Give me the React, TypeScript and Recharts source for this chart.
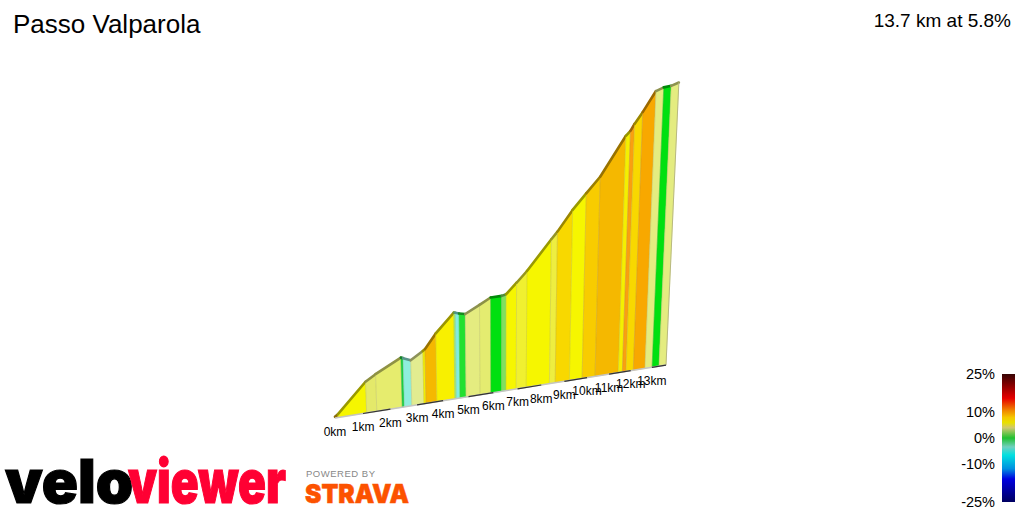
import React from "react";
import { ScatterChart, Scatter, XAxis, YAxis } from "recharts";

const stripKm = [0,0.11,1.13,1.5,2.44,2.52,2.8,3.26,3.34,3.76,4.46,4.52,4.66,4.9,5.46,5.9,6.34,6.52,6.94,7.36,8.35,8.6,9.22,9.78,10.36,11.42,11.61,11.78,12.12,12.67,13.01,13.34,13.68];
const stripGain = [3,8,76,91,123,121,113,132,136,172,219,218,215,212,231,247,248,251,278,306,384,403,458,500,543,652,665,684,716,774,784,788,797];
const stripColors = ["#e0b010","#f6f600","#e4e96a","#e6ec6e","#18d040","#8eeedd","#e2ec90","#f4f000","#f5b800","#f8f000","#a0ee70","#80eee0","#22e030","#e4ec80","#e4ec70","#00e010","#80e060","#f6f600","#f0f030","#f6f600","#eeee40","#f8d800","#f6f600","#f8cc00","#f5b800","#f4f000","#fa9f10","#f8d800","#f8a800","#e4ec80","#00e010","#e4ec80"];
const kmTicks = [0,1,2,3,4,5,6,7,8,9,10,11,12,13];
const scaleTicks = [25,10,0,-10,-25];
const scaleStops: [number,string][] = [[25,"#360404"],[21,"#800000"],[17,"#cc0000"],[15.5,"#e60000"],[11,"#f08000"],[8,"#f5c800"],[6,"#e8e000"],[4,"#d0c870"],[0,"#20c030"],[-3.5,"#70d0c0"],[-6.7,"#00e0e0"],[-12,"#0090e0"],[-16,"#0000e0"],[-25,"#000060"]];

// perspective camera of the 3D profile
const W = 1024, H = 512;
const baseX = (km: number) => 335 + (28.4 * km) / (1 + 0.0127 * km);
const project = (km: number, gain: number) => {
  const bx = baseX(km);
  const h = (gain * 0.416) / (1 + 0.0127 * km);
  return { x: bx + (h * (bx - 500)) / 3650, y: 418 - 0.16 * (bx - 335) - h };
};
const scaleY = (pct: number) => 438 - 2.56 * pct;

const darken = (c: string, f: number) => {
  const n = parseInt(c.slice(1), 16);
  const ch = (s: number) => Math.round(((n >> s) & 255) * f);
  return `rgb(${ch(16)},${ch(8)},${ch(0)})`;
};
const toStr = (pts: any[]) => pts.map((p) => `${p.x},${p.y}`).join(" ");
const noDot = () => <g />;
const SANS = "'Liberation Sans', Arial, sans-serif";

const stripRenderer = (color: string) => (props: any) => {
  const p = props.points;
  return (
    <g key={color}>
      <polygon points={toStr(p)} fill={color} stroke={color} strokeWidth={0.4} />
      <line x1={p[3].x} y1={p[3].y} x2={p[0].x} y2={p[0].y} stroke="#8a8a60" strokeOpacity={0.22} strokeWidth={1} />
      <line x1={p[0].x} y1={p[0].y} x2={p[1].x} y2={p[1].y} stroke={darken(color, 0.62)} strokeWidth={2.6} strokeLinecap="round" />
    </g>
  );
};

const kmLabel = (props: any) => (
  <text x={props.cx} y={props.cy} dy={17.5} textAnchor="middle" fontFamily={SANS} fontSize={12} fill="#000">
    {props.payload.km}km
  </text>
);
const scaleLabel = (props: any) => (
  <text x={props.cx} y={props.cy} dy={5} textAnchor="end" fontFamily={SANS} fontSize={14.5} fill="#000">
    {props.payload.pct}%
  </text>
);

export default function App() {
  return (
    <div style={{ position: "absolute", left: 0, top: 0, width: W, height: H }}>
      <ScatterChart width={W} height={H} margin={{ top: 0, right: 0, bottom: 0, left: 0 }} style={{ background: "#fff" }}>
        <defs>
          <linearGradient id="slopeScale" x1="0" y1="0" x2="0" y2="1">
            {scaleStops.map(([pct, c]) => (
              <stop key={pct} offset={`${((25 - pct) / 50) * 100}%`} stopColor={c} />
            ))}
          </linearGradient>
        </defs>
        <XAxis type="number" dataKey="x" domain={[0, W]} hide />
        <YAxis type="number" dataKey="y" domain={[0, H]} reversed hide />

        {stripColors.map((color, i) => (
          <Scatter
            key={i}
            isAnimationActive={false}
            data={[
              project(stripKm[i], stripGain[i]),
              project(stripKm[i + 1], stripGain[i + 1]),
              project(stripKm[i + 1], 0),
              project(stripKm[i], 0),
            ]}
            shape={noDot}
            line={stripRenderer(color)}
          />
        ))}
        <Scatter
          isAnimationActive={false}
          data={[project(13.68, 0), project(13.68, 797)]}
          shape={noDot}
          line={{ stroke: "#b8b880", strokeWidth: 1 }}
        />
        <Scatter
          isAnimationActive={false}
          data={[project(0, 0), project(13.68, 0)]}
          shape={noDot}
          line={{ stroke: "#c4c4c4", strokeWidth: 1.5 }}
        />
        {kmTicks.filter((k) => k % 2 === 1).map((k) => (
          <Scatter
            key={`seg${k}`}
            isAnimationActive={false}
            data={[project(k, 0), project(Math.min(k + 1, 13.68), 0)]}
            shape={noDot}
            line={{ stroke: "#333", strokeWidth: 1.2 }}
          />
        ))}
        <Scatter
          isAnimationActive={false}
          data={kmTicks.map((km) => ({ ...project(km, 0), km }))}
          shape={kmLabel}
        />

        <Scatter
          isAnimationActive={false}
          data={[
            { x: 1002, y: scaleY(25) },
            { x: 1015, y: scaleY(25) },
            { x: 1015, y: scaleY(-25) },
            { x: 1002, y: scaleY(-25) },
          ]}
          shape={noDot}
          line={(props: any) => <polygon key="bar" points={toStr(props.points)} fill="url(#slopeScale)" />}
        />
        <Scatter
          isAnimationActive={false}
          data={scaleTicks.map((pct) => ({ x: 995, y: scaleY(pct), pct }))}
          shape={scaleLabel}
        />

        <text x={13} y={33} fontFamily={SANS} fontSize={26} fill="#000">Passo Valparola</text>
        <text x={1011} y={27} textAnchor="end" fontFamily={SANS} fontSize={19} fill="#000">13.7 km at 5.8%</text>

        <text x={5} y={503} fontFamily="Inter, sans-serif" fontWeight={900} fontSize={60} textLength={128} lengthAdjust="spacingAndGlyphs" fill="#000" stroke="#000" strokeWidth={1.2}>velo</text>
        <text x={128} y={503} fontFamily="Inter, sans-serif" fontWeight={900} fontSize={60} textLength={158} lengthAdjust="spacingAndGlyphs" fill="#ff0033" stroke="#ff0033" strokeWidth={1.2}>viewer</text>
        <text x={306} y={477} fontFamily={SANS} fontSize={9.5} textLength={69} fill="#888">POWERED BY</text>
        <text x={305} y={503} fontFamily="Inter, sans-serif" fontWeight={900} fontSize={26} textLength={104} lengthAdjust="spacingAndGlyphs" fill="#fc5200" stroke="#fc5200" strokeWidth={0.5}>STRAVA</text>
      </ScatterChart>
    </div>
  );
}
